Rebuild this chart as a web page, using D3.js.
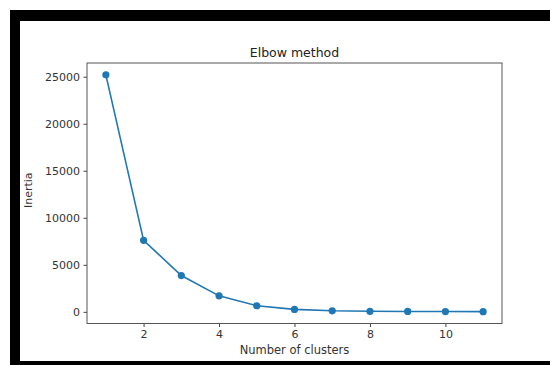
<!DOCTYPE html>
<html>
<head>
<meta charset="utf-8">
<script src="https://cdn.jsdelivr.net/npm/d3@7"></script>
<style>
  body { margin: 0; background: #fff; }
  svg { display: block; }
</style>
</head>
<body>
<div id="chart-area"></div>
<script>
// values
const clusters = [1, 2, 3, 4, 5, 6, 7, 8, 9, 10, 11];
const inertia = [25200, 7600, 3860, 1700, 650, 260, 110, 60, 40, 30, 20];
const xTicks = [2, 4, 6, 8, 10];
const yTicks = [0, 5000, 10000, 15000, 20000, 25000];

const W = 550, H = 365;
const margin = {top: 63, right: 48, bottom: 41.5, left: 87};
const width = W - margin.left - margin.right;
const height = H - margin.top - margin.bottom;

const svg = d3.select("#chart-area")
    .append("svg")
    .attr("width", W)
    .attr("height", H)
    .style("font-family", "'DejaVu Sans', sans-serif");

svg.append("rect").attr("width", W).attr("height", H).attr("fill", "#fff");

// black frame around the screenshot
svg.append("rect").attr("x", 10).attr("y", 10).attr("width", W - 10).attr("height", 11).attr("fill", "#000");
svg.append("rect").attr("x", 10).attr("y", 10).attr("width", 10).attr("height", H - 10).attr("fill", "#000");
svg.append("rect").attr("x", 10).attr("y", 361).attr("width", W - 10).attr("height", 4).attr("fill", "#000");

const g = svg.append("g")
    .attr("transform", `translate(${margin.left}, ${margin.top})`);

// matplotlib style 5% margins
const xPad = (d3.max(clusters) - d3.min(clusters)) * 0.05;
const yPad = (d3.max(inertia) - d3.min(inertia)) * 0.05;

const xScale = d3.scaleLinear()
    .domain([d3.min(clusters) - xPad, d3.max(clusters) + xPad])
    .range([0, width]);

const yScale = d3.scaleLinear()
    .domain([d3.min(inertia) - yPad, d3.max(inertia) + yPad])
    .range([height, 0]);

const xAxis = d3.axisBottom(xScale).tickValues(xTicks).tickSize(3.5).tickPadding(3.5).tickFormat(d3.format("d"));
const yAxis = d3.axisLeft(yScale).tickValues(yTicks).tickSize(3.5).tickPadding(3.5).tickFormat(d3.format("d"));

g.append("g")
    .attr("class", "x-axis")
    .attr("transform", `translate(0, ${height})`)
    .call(xAxis);

g.append("g")
    .attr("class", "y-axis")
    .call(yAxis);

g.selectAll(".x-axis .domain, .y-axis .domain").remove();
g.selectAll(".tick line").attr("stroke", "#444");
g.selectAll(".tick text")
    .attr("fill", "#333")
    .style("font-size", "11px")
    .style("font-family", "'DejaVu Sans', sans-serif");

// frame of the axes box
g.append("rect")
    .attr("width", width)
    .attr("height", height)
    .attr("fill", "none")
    .attr("stroke", "#555")
    .attr("stroke-width", 1);

const line = d3.line()
    .x((d, i) => xScale(clusters[i]))
    .y(d => yScale(d));

g.append("path")
    .datum(inertia)
    .attr("fill", "none")
    .attr("stroke", "#1f77b4")
    .attr("stroke-width", 1.6)
    .attr("d", line);

g.selectAll("circle")
    .data(inertia)
    .enter()
    .append("circle")
    .attr("cx", (d, i) => xScale(clusters[i]))
    .attr("cy", d => yScale(d))
    .attr("r", 3.6)
    .attr("fill", "#1f77b4");

g.append("text")
    .attr("x", width / 2)
    .attr("y", -6)
    .attr("text-anchor", "middle")
    .attr("fill", "#222")
    .style("font-size", "12.5px")
    .text("Elbow method");

g.append("text")
    .attr("x", width / 2)
    .attr("y", height + 30)
    .attr("text-anchor", "middle")
    .attr("fill", "#333")
    .style("font-size", "11.5px")
    .text("Number of clusters");

g.append("text")
    .attr("transform", "rotate(-90)")
    .attr("x", -height / 2 + 3)
    .attr("y", -55)
    .attr("text-anchor", "middle")
    .attr("fill", "#333")
    .style("font-size", "11px")
    .text("Inertia");
</script>
</body>
</html>
